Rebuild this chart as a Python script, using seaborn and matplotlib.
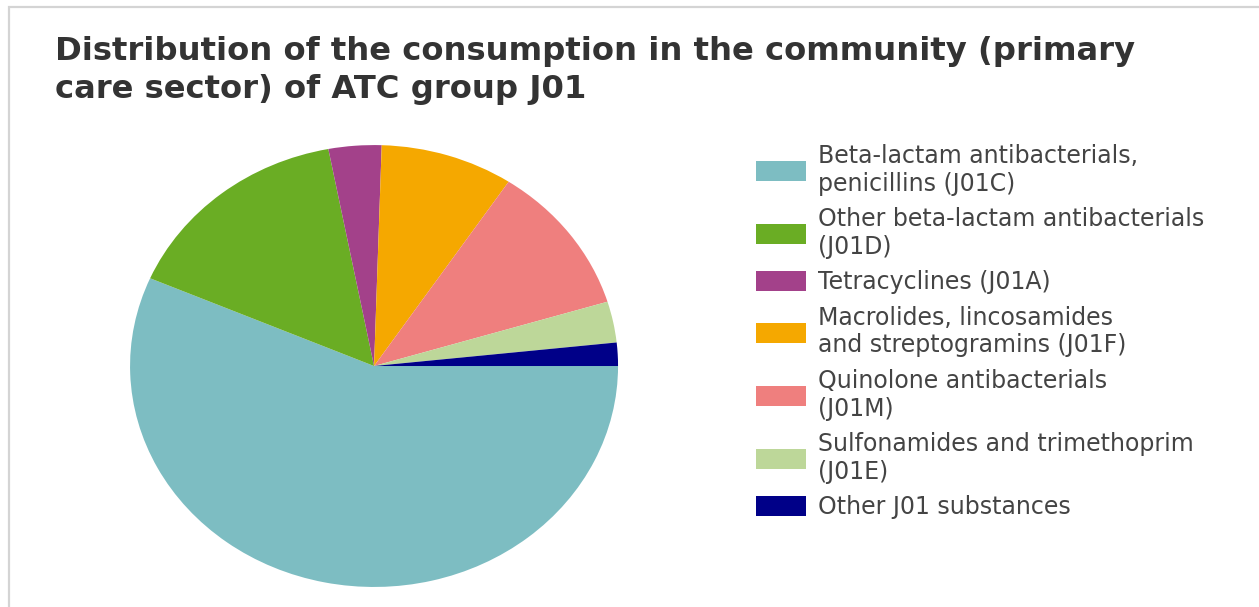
import matplotlib.pyplot as plt
import seaborn as sns
from matplotlib.patches import Rectangle

# estilo base
sns.set_theme(style="white")
plt.rcParams['font.family'] = ['DejaVu Sans']

titulo = ("Distribution of the consumption in the community (primary\n"
          "care sector) of ATC group J01")

grupos = [
    "Beta-lactam antibacterials,\npenicillins (J01C)",
    "Other beta-lactam antibacterials\n(J01D)",
    "Tetracyclines (J01A)",
    "Macrolides, lincosamides\nand streptogramins (J01F)",
    "Quinolone antibacterials\n(J01M)",
    "Sulfonamides and trimethoprim\n(J01E)",
    "Other J01 substances",
]
consumo = [56.5, 15.5, 3.5, 8.8, 11.0, 3.0, 1.7]
colores = ['#7DBDC2', '#6AAD24', '#A3418A', '#F5A800',
           '#EF7F7E', '#BDD799', '#000088']

fig = plt.figure(figsize=(12.59, 6.07), dpi=100)
fig.patch.set_facecolor('white')

# marco gris (solo izquierda y arriba visibles)
fig.add_artist(Rectangle((9 / 1259, -0.05), 1.1, 1.0385,
                         transform=fig.transFigure, fill=False,
                         edgecolor='#d4d4d4', linewidth=1.6))

# pastel (ligeramente estirado en horizontal como el original)
ax = fig.add_axes([0.1033, 0.033, 0.3876, 0.728])
cunas, _ = ax.pie(consumo, colors=colores, startangle=0, counterclock=False,
                  radius=1, wedgeprops=dict(linewidth=0))
ax.set_aspect('auto')
ax.set_xlim(-1, 1)
ax.set_ylim(-1, 1)
ax.axis('off')

fig.text(55 / 1259, 1 - 36 / 607, titulo, ha='left', va='top',
         fontsize=23.2, fontweight='bold', color='#333333', linespacing=1.3)

fig.legend(cunas, grupos, loc='upper left',
           bbox_to_anchor=(756 / 1259, 1 - 144 / 607),
           frameon=False, borderpad=0, borderaxespad=0,
           fontsize=17, labelcolor='#444444',
           handlelength=2.12, handleheight=0.93, handletextpad=0.5,
           labelspacing=0.48)

fig.savefig('out.png', dpi=100)
